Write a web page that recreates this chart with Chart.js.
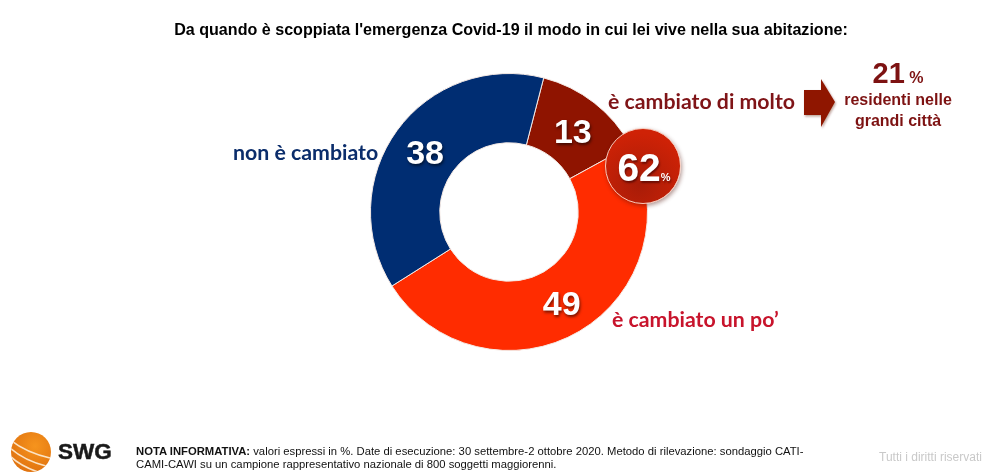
<!DOCTYPE html>
<html lang="it">
<head>
<meta charset="utf-8">
<title>Emergenza Covid-19</title>
<script src="https://cdn.jsdelivr.net/npm/chart.js@4"></script>
<style>
  html, body { margin: 0; padding: 0; background: #fff; }
  #wrap { position: relative; width: 987px; height: 476px; overflow: hidden; font-family: "Liberation Sans", sans-serif; }
  #chart { position: absolute; left: 0; top: 0; }
  .txt { position: absolute; white-space: nowrap; }
  #title { left: 0; top: 19px; width: 1022px; text-align: center; font-weight: 700; font-size: 16.1px; line-height: 20px; color: #000; }
  .slice-label { font-family: Lato, sans-serif; font-weight: 700; font-size: 21.3px; line-height: 24px; }
  #bubble { position: absolute; left: 605px; top: 128px; width: 76px; height: 76px; border-radius: 50%;
    background: radial-gradient(circle at 45% 75%, #a81c08, #cf2206 75%); border: 1px solid #f5c9bb; box-sizing: border-box;
    box-shadow: 1px 2px 4px rgba(80,20,10,.45); }
  #bubbleText { left: 605px; top: 147px; width: 78px; text-align: center; color: #fff; font-weight: 700; font-size: 39px; line-height: 42px; text-shadow: 1px 2px 2px rgba(60,0,0,.6); }
  #bubbleText small { font-size: 11px; }
  #city { left: 830px; top: 58px; width: 136px; text-align: center; color: #7d1212; font-weight: 700; }
  #cityValue { font-size: 29px; line-height: 30px; }
  #cityValue small { font-size: 16px; }
  #cityText { font-size: 16px; line-height: 21px; margin-top: -4px; }
  #note { left: 136px; top: 445px; font-size: 11.27px; line-height: 12.6px; color: #111; }
  #rights { left: 879px; top: 450px; font-size: 12px; line-height: 14px; color: #c9c9c9; }
  #brand { left: 58px; top: 437px; font-weight: 700; font-size: 22.5px; line-height: 30px; color: #1a1a1a; -webkit-text-stroke: .5px #1a1a1a; }
</style>
</head>
<body>
<div id="wrap">
  <canvas id="chart" width="987" height="476"></canvas>
  <div class="txt" id="title"></div>
  <div id="bubble"></div>
  <div class="txt" id="bubbleText"></div>
  <div class="txt slice-label" id="label0" style="left:608px;top:89px;color:#7f1417"></div>
  <div class="txt slice-label" id="label1" style="left:612px;top:307px;color:#c8142c"></div>
  <div class="txt slice-label" id="label2" style="left:233px;top:140px;color:#0b2d6b"></div>
  <svg style="position:absolute;left:798px;top:74px" width="44" height="60">
    <defs><filter id="sh" x="-20%" y="-20%" width="140%" height="140%"><feDropShadow dx="1" dy="1.5" stdDeviation="1.2" flood-color="#5a1a10" flood-opacity=".4"/></filter></defs>
    <polygon points="6,16 23,16 23,5 37,28 23,53 23,41 6,41" fill="#8f1606" filter="url(#sh)"/>
  </svg>
  <div class="txt" id="city">
    <div id="cityValue"></div>
    <div id="cityText"></div>
  </div>
  <svg style="position:absolute;left:6px;top:428px" width="50" height="48">
    <defs>
      <radialGradient id="ball" cx="60%" cy="35%" r="70%"><stop offset="0" stop-color="#f6941d"/><stop offset="1" stop-color="#e0720f"/></radialGradient>
      <clipPath id="ballClip"><circle cx="25" cy="24" r="20"/></clipPath>
    </defs>
    <circle cx="25" cy="24" r="20" fill="url(#ball)"/>
    <g clip-path="url(#ballClip)" fill="none" stroke="#fbe3c4" stroke-width="1.6">
      <path d="M2 10 Q18 24 44 30"/>
      <path d="M2 18 Q16 32 40 38"/>
      <path d="M4 28 Q14 38 32 44"/>
    </g>
  </svg>
  <div class="txt" id="brand">SWG</div>
  <div class="txt" id="note"><b>NOTA INFORMATIVA:</b> valori espressi in %. Date di esecuzione: 30 settembre-2 ottobre 2020. Metodo di rilevazione: sondaggio CATI-<br>CAMI-CAWI su un campione rappresentativo nazionale di 800 soggetti maggiorenni.</div>
  <div class="txt" id="rights">Tutti i diritti riservati</div>
</div>
<script>
  const titleText = "Da quando è scoppiata l'emergenza Covid-19 il modo in cui lei vive nella sua abitazione:";
  const categories = ['è cambiato di molto', 'è cambiato un po’', 'non è cambiato'];
  const values = [13, 49, 38];
  const sliceColors = ['#8f1400', '#ff2c00', '#002d72'];
  const changedTotal = 62;
  const cityShare = 21;
  const cityLines = ['residenti nelle', 'grandi città'];

  document.getElementById('title').textContent = titleText;
  categories.forEach((c, i) => { document.getElementById('label' + i).textContent = c; });
  document.getElementById('bubbleText').innerHTML = `${changedTotal}<small>%</small>`;
  document.getElementById('cityValue').innerHTML = `${cityShare}<small> %</small>`;
  document.getElementById('cityText').innerHTML = cityLines.join('<br>');

  // numbers in the middle of each slice
  const sliceValues = {
    id: 'sliceValues',
    afterDatasetsDraw(chart) {
      const ctx = chart.ctx;
      const arcs = chart.getDatasetMeta(0).data;
      ctx.save();
      ctx.font = 'bold 34px "Liberation Sans"';
      ctx.textAlign = 'center';
      ctx.textBaseline = 'middle';
      ctx.fillStyle = '#fff';
      ctx.shadowColor = 'rgba(0,0,0,.55)';
      ctx.shadowBlur = 3;
      ctx.shadowOffsetX = 1;
      ctx.shadowOffsetY = 2;
      arcs.forEach((arc, i) => {
        const p = arc.tooltipPosition();
        ctx.fillText(String(values[i]), p.x, p.y + 4);
      });
      ctx.restore();
    }
  };

  new Chart(document.getElementById('chart'), {
    type: 'doughnut',
    data: {
      labels: categories,
      datasets: [{ data: values, backgroundColor: sliceColors, borderColor: '#f4e9e4', borderWidth: 1 }]
    },
    options: {
      responsive: false,
      animation: false,
      cutout: '50%',
      rotation: 14.5,
      layout: { padding: { left: 370, right: 339, top: 73, bottom: 125 } },
      plugins: {
        legend: { display: false },
        tooltip: { enabled: false }
      }
    },
    plugins: [sliceValues]
  });
</script>
</body>
</html>
